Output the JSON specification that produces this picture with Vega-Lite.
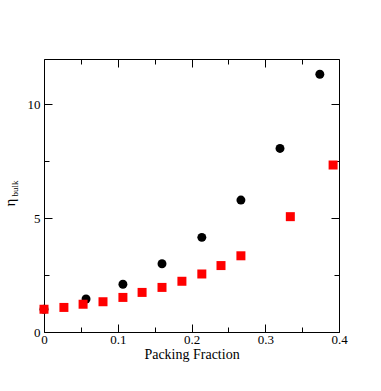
{
  "$schema": "https://vega.github.io/schema/vega-lite/v6.json",
  "width": 295,
  "height": 273,
  "autosize": {"type": "none"},
  "padding": {"left": 44, "top": 59, "right": 42, "bottom": 59},
  "background": "white",
  "config": {
    "view": {"stroke": null},
    "axis": {
      "domainColor": "black",
      "domainWidth": 1,
      "tickColor": "black",
      "tickWidth": 1,
      "grid": false,
      "labelFont": "Liberation Serif",
      "titleFont": "Liberation Serif",
      "labelColor": "black",
      "titleColor": "black",
      "labelFontSize": 13,
      "titleFontSize": 14,
      "titleFontWeight": "normal"
    }
  },
  "data": {
    "values": [
      {"phi": 0, "eta": 1.0, "series": "circle"},
      {"phi": 0.057, "eta": 1.45, "series": "circle"},
      {"phi": 0.107, "eta": 2.1, "series": "circle"},
      {"phi": 0.16, "eta": 3.0, "series": "circle"},
      {"phi": 0.214, "eta": 4.16, "series": "circle"},
      {"phi": 0.267, "eta": 5.8, "series": "circle"},
      {"phi": 0.32, "eta": 8.07, "series": "circle"},
      {"phi": 0.374, "eta": 11.33, "series": "circle"},
      {"phi": 0, "eta": 1.0, "series": "square"},
      {"phi": 0.027, "eta": 1.08, "series": "square"},
      {"phi": 0.053, "eta": 1.22, "series": "square"},
      {"phi": 0.08, "eta": 1.33, "series": "square"},
      {"phi": 0.107, "eta": 1.52, "series": "square"},
      {"phi": 0.133, "eta": 1.74, "series": "square"},
      {"phi": 0.16, "eta": 1.96, "series": "square"},
      {"phi": 0.187, "eta": 2.23, "series": "square"},
      {"phi": 0.214, "eta": 2.55, "series": "square"},
      {"phi": 0.24, "eta": 2.92, "series": "square"},
      {"phi": 0.267, "eta": 3.35, "series": "square"},
      {"phi": 0.334, "eta": 5.07, "series": "square"},
      {"phi": 0.392, "eta": 7.34, "series": "square"}
    ]
  },
  "layer": [
    {
      "transform": [{"filter": "datum.series === 'circle'"}],
      "mark": {"type": "point", "shape": "circle", "filled": true, "color": "black", "size": 80, "opacity": 1},
      "encoding": {
        "x": {
          "field": "phi", "type": "quantitative",
          "scale": {"domain": [0, 0.4], "nice": false, "zero": false},
          "axis": {
            "orient": "bottom",
            "values": [0, 0.05, 0.1, 0.15, 0.2, 0.25, 0.3, 0.35, 0.4],
            "format": ".1~f",
            "labelExpr": "round(datum.value*100) % 10 === 0 ? datum.label : ''",
            "tickSize": {"condition": {"test": "round(datum.value*100) % 10 === 0", "value": -8}, "value": -5},
            "labelPadding": 9,
            "labelFlush": false,
            "labelOverlap": false,
            "title": "Packing Fraction",
            "titleY": 26,
            "titleBaseline": "alphabetic"
          }
        },
        "y": {
          "field": "eta", "type": "quantitative",
          "scale": {"domain": [0, 12], "nice": false, "zero": false},
          "axis": {
            "orient": "left",
            "values": [0, 2.5, 5, 7.5, 10],
            "format": ".0f",
            "labelExpr": "datum.value % 5 === 0 ? datum.label : ''",
            "tickSize": {"condition": {"test": "datum.value % 5 === 0", "value": -8}, "value": -5},
            "labelPadding": 12,
            "labelFlush": false,
            "labelOverlap": false,
            "title": "η",
            "titleFontSize": 15,
            "titleAngle": -90,
            "titleAlign": "center",
            "titleBaseline": "alphabetic",
            "titleX": -30,
            "titleY": 143
          }
        }
      }
    },
    {
      "transform": [{"filter": "datum.series === 'square'"}],
      "mark": {"type": "square", "color": "#ff0000", "size": 81, "opacity": 1},
      "encoding": {
        "x": {
          "field": "phi", "type": "quantitative",
          "scale": {"domain": [0, 0.4], "nice": false, "zero": false},
          "axis": {
            "orient": "top",
            "values": [0, 0.05, 0.1, 0.15, 0.2, 0.25, 0.3, 0.35, 0.4],
            "labels": false,
            "tickSize": {"condition": {"test": "round(datum.value*100) % 10 === 0", "value": -8}, "value": -5},
            "title": null
          }
        },
        "y": {
          "field": "eta", "type": "quantitative",
          "scale": {"domain": [0, 12], "nice": false, "zero": false},
          "axis": {
            "orient": "right",
            "values": [0, 2.5, 5, 7.5, 10],
            "labels": false,
            "tickSize": {"condition": {"test": "datum.value % 5 === 0", "value": -8}, "value": -5},
            "title": "bulk",
            "titleFontSize": 9,
            "titleAngle": 270,
            "titleAlign": "center",
            "titleBaseline": "alphabetic",
            "titleX": -322,
            "titleY": 129
          }
        }
      }
    }
  ],
  "resolve": {"axis": {"x": "independent", "y": "independent"}}
}
